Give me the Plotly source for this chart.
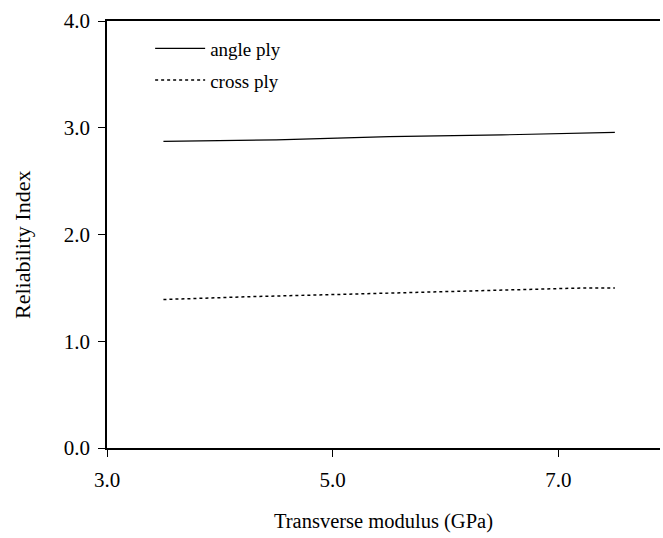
import plotly.graph_objects as go

angle_x = [3.5, 4.5, 5.5, 6.5, 7.5]
angle_y = [2.873, 2.887, 2.917, 2.933, 2.957]

cross_x = [3.5, 4.25, 5.25, 6.25, 7.25, 7.5]
cross_y = [1.391, 1.417, 1.444, 1.474, 1.500, 1.500]

x_ticks = [3.0, 5.0, 7.0]
y_ticks = [0.0, 1.0, 2.0, 3.0, 4.0]

FONT = "Liberation Serif, Times New Roman, serif"

fig = go.Figure()
fig.add_trace(go.Scatter(x=angle_x, y=angle_y, mode="lines", name="angle ply",
                         legendgroup="a",
                         line=dict(color="black", width=1.2)))
fig.add_trace(go.Scatter(x=cross_x, y=cross_y, mode="lines", name="cross ply",
                         legendgroup="b",
                         line=dict(color="black", width=1.5, dash="dot")))

fig.update_layout(
    width=663, height=538,
    margin=dict(l=107, r=3, t=21, b=90),
    paper_bgcolor="white", plot_bgcolor="white",
    font=dict(family=FONT, size=21, color="black"),
    showlegend=True,
    legend=dict(x=0.078, y=0.98, xanchor="left", yanchor="top",
                bgcolor="rgba(0,0,0,0)", font=dict(size=19),
                itemwidth=50,
                traceorder="grouped", tracegroupgap=4),
    xaxis=dict(range=[3.0, 7.9], tickvals=x_ticks,
               ticktext=[f"{v:.1f}" for v in x_ticks],
               showgrid=False, zeroline=False,
               showline=True, linecolor="black", linewidth=1.5, mirror=True,
               ticks="outside", ticklen=7, tickwidth=1.2, tickcolor="black",
               ticklabelstandoff=5, tickfont=dict(size=21),
               title=dict(text="Transverse modulus (GPa)", standoff=23,
                          font=dict(size=20.5))),
    yaxis=dict(range=[0.0, 4.0], tickvals=y_ticks,
               ticktext=[f"{v:.1f}" for v in y_ticks],
               showgrid=False, zeroline=False,
               showline=True, linecolor="black", linewidth=1.5,
               ticks="outside", ticklen=7, tickwidth=1.2, tickcolor="black",
               ticklabelstandoff=4, tickfont=dict(size=21)),
    annotations=[dict(text="Reliability Index", textangle=-90,
                      xref="paper", yref="paper", x=-0.154, y=0.475,
                      xanchor="center", yanchor="middle", showarrow=False,
                      font=dict(size=22))],
)

fig.write_html("out.html")
